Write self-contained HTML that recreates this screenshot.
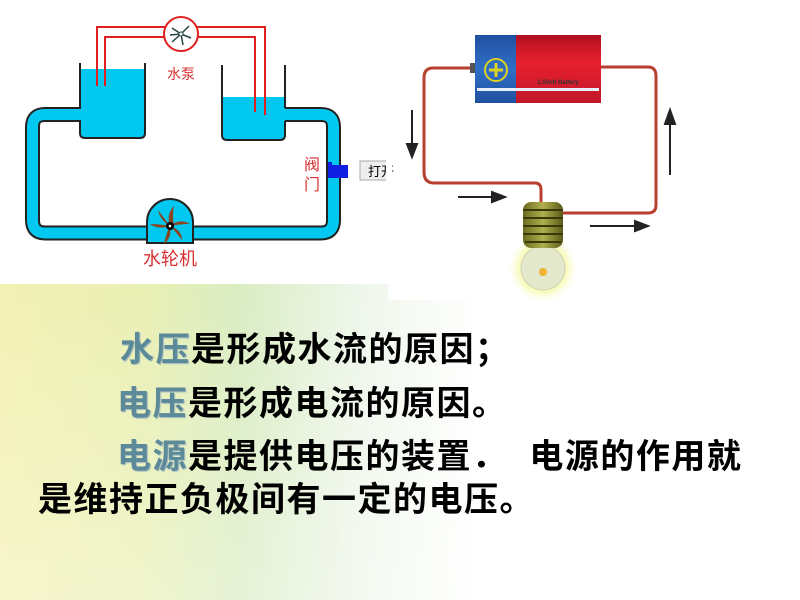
<!DOCTYPE html>
<html><head><meta charset="utf-8"><style>
html,body{margin:0;padding:0}
body{width:800px;height:600px;overflow:hidden;position:relative;
background:linear-gradient(90deg,#f2f0b0 0%,#e8efb0 18%,#d8ecc0 30%,#eef6ea 45%,#ffffff 60%,#ffffff 100%);font-family:"Liberation Sans","Noto Sans CJK SC",sans-serif}
.bg2{position:absolute;left:0;top:0;width:800px;height:600px;background:linear-gradient(180deg,rgba(255,255,255,0) 40%,rgba(255,255,255,0.35) 100%)}
.t{position:absolute;font-size:34px;font-weight:bold;color:#000;white-space:pre;line-height:40px;letter-spacing:1.5px}
.h{color:#5d8a98;text-shadow:1px 1px 1px #a0b8c0}
</style></head><body>
<div class="bg2"></div>
<svg width="800" height="600" style="position:absolute;left:0;top:0">
<rect x="0" y="0" width="388" height="284" fill="#fff"/>
<rect x="388" y="0" width="412" height="300" fill="#fff"/>
<!-- pipe loop -->
<path d="M81 114.5 H45 Q32.5 114.5 32.5 127 V220 Q32.5 233 45 233 H321 Q333.5 233 333.5 220 V127 Q333.5 114.5 321 114.5 H284" fill="none" stroke="#222" stroke-width="15"/>
<path d="M82 114.5 H45 Q32.5 114.5 32.5 127 V220 Q32.5 233 45 233 H321 Q333.5 233 333.5 220 V127 Q333.5 114.5 321 114.5 H283" fill="none" stroke="#00c8f0" stroke-width="11"/>
<!-- tanks -->
<rect x="81" y="69" width="64" height="68" fill="#00c8f0"/>
<path d="M80 63 V108 M80 121 V133 Q80 138 85 138 H140 Q145 138 145 133 V63" fill="none" stroke="#222" stroke-width="2"/>
<rect x="223" y="97" width="62" height="42" fill="#00c8f0"/>
<path d="M222 65 V135 Q222 140 227 140 H280 Q285 140 285 135 V121 M285 108 V65" fill="none" stroke="#222" stroke-width="2"/>
<!-- red pump pipes -->
<path d="M97 86 V27 H265 V115" fill="none" stroke="#e02020" stroke-width="2"/>
<path d="M105 86 V37 H255 V112" fill="none" stroke="#e02020" stroke-width="2"/>
<circle cx="181" cy="34" r="17" fill="#fff" stroke="#e02020" stroke-width="2"/>
<g stroke="#244" stroke-width="1.5" fill="none">
<path d="M181 34 l-9 -6 M181 34 l8 -8 M181 34 l10 4 M181 34 l2 11 M181 34 l-9 8 M181 34 l-11 1"/></g>
<circle cx="181" cy="34" r="2" fill="#fff" stroke="#244"/>
<text x="181" y="79" font-size="14" fill="#d83030" text-anchor="middle" font-family="Liberation Sans,Noto Sans CJK SC,sans-serif">水泵</text>
<!-- turbine -->
<path d="M147 243 V222 A23 23 0 0 1 193 222 V243 Z" fill="#00c8f0" stroke="#222" stroke-width="2"/>
<rect x="148" y="227" width="44" height="12" fill="#00c8f0"/>
<g fill="#8b4520">
<path d="M170 226 q-4 -12 4 -20 q-2 10 0 20z"/><path d="M170 226 q10 -8 20 -2 q-10 0 -20 2z"/>
<path d="M170 226 q12 4 12 14 q-6 -8 -12 -14z"/><path d="M170 226 q2 12 -6 18 q2 -10 6 -18z"/>
<path d="M170 226 q-12 4 -20 -2 q10 0 20 2z"/><path d="M170 226 q-10 -6 -12 -16 q6 8 12 16z"/></g>
<circle cx="170" cy="226" r="4" fill="#000"/><circle cx="170" cy="226" r="1.3" fill="#fff"/>
<text x="170" y="265" font-size="18" fill="#d83030" text-anchor="middle" font-family="Liberation Sans,Noto Sans CJK SC,sans-serif">水轮机</text>
<text x="312" y="170" font-size="16" fill="#d83030" text-anchor="middle" font-family="Liberation Sans,Noto Sans CJK SC,sans-serif">阀</text>
<text x="312" y="190" font-size="16" fill="#d83030" text-anchor="middle" font-family="Liberation Sans,Noto Sans CJK SC,sans-serif">门</text>
<rect x="328" y="162" width="4" height="16" fill="#1020e0"/><rect x="332" y="165" width="16" height="13" fill="#1020e0"/>
<rect x="360" y="161" width="30" height="19" fill="#eee" stroke="#aaa"/>
<text x="368" y="176" font-size="13" fill="#000" font-family="Liberation Sans,Noto Sans CJK SC,sans-serif">打开</text>
<rect x="386" y="155" width="6" height="30" fill="#fff"/>
<!-- electric circuit -->
<path d="M472 68 H433 Q424 68 424 78 V172 Q424 183 434 183 H535 Q541 183 541 190 V202" fill="none" stroke="#b84030" stroke-width="3"/>
<path d="M600 67 H648 Q656 67 656 76 V205 Q656 213 648 213 H562" fill="none" stroke="#b84030" stroke-width="3"/>
<defs><linearGradient id="bl" x1="0" y1="0" x2="0" y2="1"><stop offset="0" stop-color="#2050a0"/><stop offset="0.5" stop-color="#3070c8"/><stop offset="1" stop-color="#2050a0"/></linearGradient>
<linearGradient id="rd" x1="0" y1="0" x2="0" y2="1"><stop offset="0" stop-color="#b01020"/><stop offset="0.4" stop-color="#e82030"/><stop offset="1" stop-color="#c01828"/></linearGradient>
<radialGradient id="gl"><stop offset="0.3" stop-color="#f0f080"/><stop offset="0.7" stop-color="#f4f8a0" stop-opacity="0.6"/><stop offset="1" stop-color="#fff" stop-opacity="0"/></radialGradient>
<linearGradient id="gd" x1="0" y1="0" x2="1" y2="0"><stop offset="0" stop-color="#6a6a20"/><stop offset="0.5" stop-color="#b0b050"/><stop offset="1" stop-color="#5a5a18"/></linearGradient></defs>
<rect x="470" y="63" width="6" height="10" fill="#555"/>
<rect x="475" y="35" width="41" height="68" fill="url(#bl)"/>
<rect x="516" y="35" width="85" height="68" fill="url(#rd)"/>
<rect x="477" y="88" width="122" height="3" fill="#e8f0ff"/>
<circle cx="496" cy="70" r="11" fill="none" stroke="#e0d020" stroke-width="2"/>
<path d="M496 63 V77 M489 70 H503" stroke="#e0d020" stroke-width="3"/>
<text x="558" y="84" font-size="6" fill="#333" text-anchor="middle" font-weight="bold">1.5Volt Battery</text>
<circle cx="543" cy="268" r="36" fill="url(#gl)"/>
<circle cx="543" cy="268" r="22" fill="#e4e8cc" stroke="#cfd4b0"/>
<circle cx="543" cy="272" r="4" fill="#f0b030"/>
<rect x="523" y="202" width="40" height="46" rx="8" fill="url(#gd)"/>
<g stroke="#3a3a08" stroke-width="2"><path d="M523 210 H563 M523 218 H563 M523 226 H563 M523 234 H563 M525 242 H561"/></g>
<!-- arrows -->
<g fill="#222" stroke="#222" stroke-width="2">
<path d="M412 110 V150"/><path d="M407 144 L412 157 L417 144Z"/>
<path d="M670 175 V120"/><path d="M665 124 L670 110 L675 124Z"/>
<path d="M458 197 H495"/><path d="M492 192 L505 197 L492 202Z"/>
<path d="M590 226 H638"/><path d="M635 221 L648 226 L635 231Z"/>
</g>
</svg>
<div class="t" style="left:120px;top:330px"><span class="h">水压</span>是形成水流的原因；</div>
<div class="t" style="left:117px;top:384px"><span class="h">电压</span>是形成电流的原因。</div>
<div class="t" style="left:117px;top:437px"><span class="h">电源</span>是提供电压的装置．  电源的作用就</div>
<div class="t" style="left:38px;top:480px">是维持正负极间有一定的电压。</div>
</body></html>
